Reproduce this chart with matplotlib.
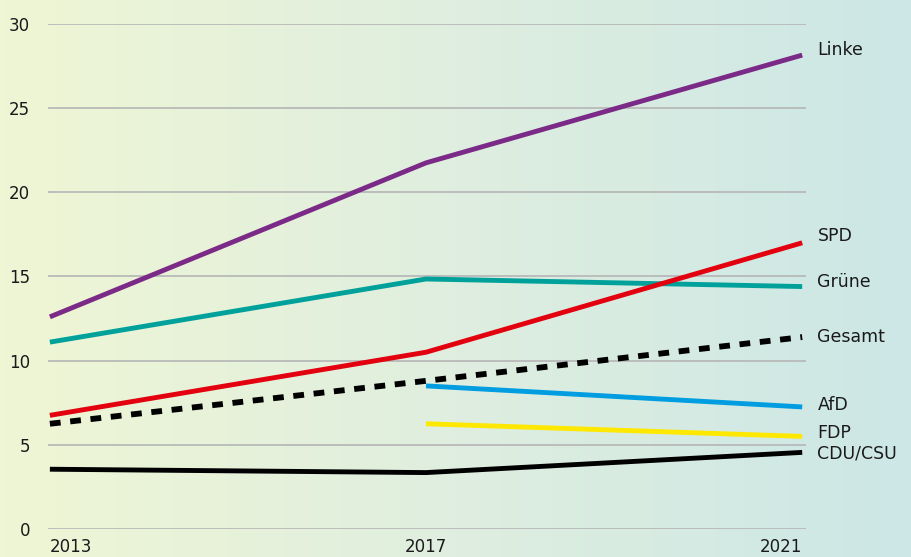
import numpy as np
import matplotlib.pyplot as plt
from matplotlib.colors import LinearSegmentedColormap

# Daten
years = [2013, 2017, 2021]
linke = [12.6, 21.75, 28.15]
gruene = [11.1, 14.85, 14.4]
spd = [6.75, 10.5, 17.0]
gesamt = [6.25, 8.8, 11.4]
afd_years = [2017, 2021]
afd = [8.5, 7.25]
fdp = [6.25, 5.5]
cdu = [3.55, 3.35, 4.55]

plt.rcParams['font.family'] = ['DejaVu Sans']

fig = plt.figure(figsize=(9.11, 5.57), dpi=100)

# Hintergrund-Verlauf
bg = fig.add_axes([0, 0, 1, 1], zorder=-1)
cmap = LinearSegmentedColormap.from_list('bg', ['#eff6d4', '#dfeedf', '#cce7e6'])
bg.imshow(np.linspace(0, 1, 256).reshape(1, -1), cmap=cmap, aspect='auto', extent=[0, 1, 0, 1])
bg.axis('off')

ax = fig.add_axes([0.0527, 0.0503, 0.832, 0.9067])
ax.patch.set_alpha(0)

lw = 3.5
ax.plot(years, linke, color='#7b2a87', lw=lw, solid_capstyle='butt', clip_on=False)
ax.plot(years, gruene, color='#00a19a', lw=lw, solid_capstyle='butt', clip_on=False)
ax.plot(years, spd, color='#e3000f', lw=lw, solid_capstyle='butt', clip_on=False)
ax.plot(years, gesamt, color='black', lw=4.2, dashes=(1.85, 1.65), dash_capstyle='butt', clip_on=False)
ax.plot(afd_years, afd, color='#009ee0', lw=lw, solid_capstyle='butt', clip_on=False)
ax.plot(afd_years, fdp, color='#ffe800', lw=lw, solid_capstyle='butt', clip_on=False)
ax.plot(years, cdu, color='black', lw=lw, solid_capstyle='butt', clip_on=False)

# Beschriftungen rechts
labels = [('Linke', linke[-1], 3.6), ('SPD', spd[-1], 5), ('Grüne', gruene[-1], 3),
          ('Gesamt', gesamt[-1], 0), ('AfD', afd[-1], 1.5), ('FDP', fdp[-1], 2.5),
          ('CDU/CSU', cdu[-1], -1)]
for name, val, dy in labels:
    ax.annotate(name, xy=(2021, val), xytext=(11, dy), textcoords='offset points',
                va='center', ha='left', fontsize=12.5, color='#1a1a1a',
                annotation_clip=False)

ax.set_xlim(2012.98, 2021.04)
ax.set_ylim(0, 30)
ax.set_yticks([0, 5, 10, 15, 20, 25, 30])
ax.set_xticks(years)
ax.grid(axis='y', color='#b5b5b5', lw=1.2)
ax.set_axisbelow(True)
for s in ax.spines.values():
    s.set_visible(False)
ax.tick_params(length=0, labelsize=12, colors='#1a1a1a')
ax.tick_params(axis='y', pad=13)
ax.tick_params(axis='x', pad=6.5)
for lab, h in zip(ax.get_xticklabels(), ['left', 'center', 'right']):
    lab.set_ha(h)

fig.savefig('out.png', dpi=100)
